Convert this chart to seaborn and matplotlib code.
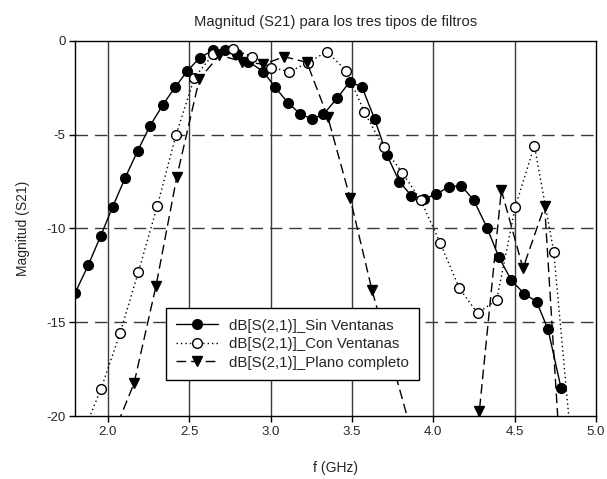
import matplotlib
matplotlib.use("Agg")
import matplotlib.pyplot as plt
import seaborn as sns
import pandas as pd

# Frequency (GHz) and |S21| (dB) for the three filter layouts
freq_sin = [1.800, 1.880, 1.956, 2.030, 2.107, 2.184, 2.259, 2.338, 2.413, 2.489,
            2.564, 2.649, 2.721, 2.793, 2.864, 2.956, 3.028, 3.106, 3.182, 3.254,
            3.325, 3.408, 3.485, 3.561, 3.639, 3.715, 3.791, 3.865, 3.940, 4.018,
            4.095, 4.172, 4.248, 4.330, 4.401, 4.480, 4.560, 4.634, 4.705, 4.785]
s21_sin = [-13.42, -11.95, -10.40, -8.84, -7.29, -5.85, -4.53, -3.41, -2.47, -1.60,
           -0.90, -0.48, -0.48, -0.69, -1.10, -1.64, -2.47, -3.29, -3.89, -4.16,
           -3.91, -3.06, -2.20, -2.44, -4.16, -6.08, -7.50, -8.25, -8.43, -8.18,
           -7.77, -7.73, -8.48, -9.96, -11.50, -12.77, -13.49, -13.90, -15.38, -18.52]

freq_con = [1.843, 1.958, 2.075, 2.187, 2.304, 2.419, 2.532, 2.649, 2.768, 2.885,
            3.004, 3.116, 3.230, 3.346, 3.465, 3.577, 3.694, 3.809, 3.922, 4.043,
            4.160, 4.272, 4.389, 4.504, 4.621, 4.740, 4.855]
s21_con = [-21.00, -18.56, -15.59, -12.34, -8.80, -5.01, -1.96, -0.69, -0.44, -0.84,
           -1.42, -1.64, -1.15, -0.57, -1.58, -3.80, -5.67, -7.02, -8.48, -10.79,
           -13.19, -14.52, -13.81, -8.84, -5.58, -11.24, -22.20]

freq_plano = [2.028, 2.161, 2.296, 2.424, 2.562, 2.686, 2.823, 2.956, 3.085, 3.223,
              3.352, 3.489, 3.623, 3.890, 4.150, 4.283, 4.418, 4.551, 4.684, 4.817]
s21_plano = [-21.10, -18.26, -13.07, -7.24, -2.04, -0.75, -1.10, -1.24, -0.84, -1.14,
             -4.07, -8.39, -13.28, -21.60, -26.00, -19.72, -7.95, -12.12, -8.80, -27.40]

xticks = [2.0, 2.5, 3.0, 3.5, 4.0, 4.5, 5.0]
yticks = [0, -5, -10, -15, -20]

sns.set_style("white")
plt.rcParams["font.family"] = ["Liberation Sans", "DejaVu Sans"]
plt.rcParams["axes.unicode_minus"] = False

fig = plt.figure(figsize=(6.07, 4.79), dpi=100)
ax = fig.add_axes([0.124, 0.1315, 0.858, 0.783])

# grid: solid verticals, long-dashed horizontals
for xv in xticks[:-1]:
    ax.axvline(xv, color="#3a3a3a", lw=1.0, zorder=0)
for yv in yticks[1:-1]:
    ax.axhline(yv, color="#3a3a3a", lw=1.0, ls=(0, (9, 5)), zorder=0)

series = [
    ("dB[S(2,1)]_Sin Ventanas", freq_sin, s21_sin,
     dict(marker="o", markerfacecolor="black", linestyle="-")),
    ("dB[S(2,1)]_Con Ventanas", freq_con, s21_con,
     dict(marker="o", markerfacecolor="white", linestyle=(0, (1, 2.2)))),
    ("dB[S(2,1)]_Plano completo", freq_plano, s21_plano,
     dict(marker="v", markerfacecolor="black", linestyle=(0, (7, 3.5)))),
]

for name, fx, fy, style in series:
    df = pd.DataFrame({"f": fx, "dB": fy})
    sns.lineplot(data=df, x="f", y="dB", ax=ax, sort=False, color="black",
                 lw=1.0, markersize=7, markeredgecolor="black",
                 markeredgewidth=1.0, label=name, **style)

ax.set_xlim(1.8, 5.0)
ax.set_ylim(-20, 0)
ax.set_xticks(xticks)
ax.set_yticks(yticks)
ax.set_xticklabels([f"{v:.1f}" for v in xticks])
ax.tick_params(axis="both", direction="out", length=4, width=1,
               color="black", labelsize=9.5, pad=3)
ax.tick_params(top=False, right=False, bottom=True, left=True)
for sp in ax.spines.values():
    sp.set_color("black")
    sp.set_linewidth(1.0)

ax.set_xlabel("f (GHz)", fontsize=10, labelpad=17)
ax.set_ylabel("Magnitud (S21)", fontsize=10, labelpad=12)
ax.set_title("Magnitud (S21) para los tres tipos de filtros", fontsize=10.6, pad=11)

leg = ax.legend(loc="lower left", bbox_to_anchor=(0.174, 0.096), fontsize=10.8,
                frameon=True, fancybox=False, edgecolor="black",
                borderpad=0.7, borderaxespad=0, handlelength=2.75,
                labelspacing=0.3, handletextpad=0.75)
leg.get_frame().set_linewidth(1.0)
leg.get_frame().set_alpha(1.0)

fig.savefig("out.png", dpi=100)
